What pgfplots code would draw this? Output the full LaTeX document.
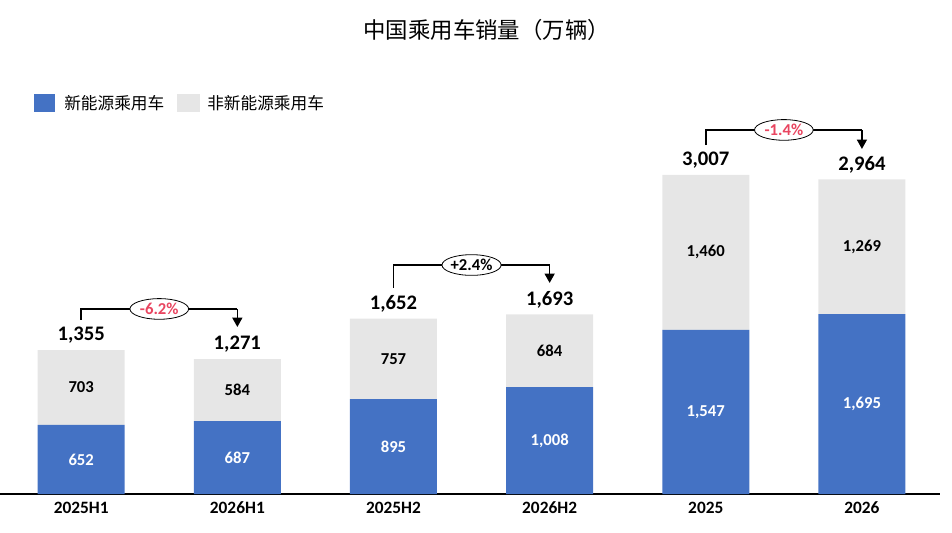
\documentclass[border=0pt]{standalone}
\usepackage{fontspec}
\setmainfont{Carlito}
\newfontfamily\cjk{Noto Sans CJK SC}
\usepackage{pgfplots}
\pgfplotsset{compat=1.18}
\usetikzlibrary{arrows.meta,shapes.geometric}
\definecolor{nev}{HTML}{4472C4}
\definecolor{ice}{HTML}{E6E6E6}
\definecolor{pctred}{HTML}{E94560}
\tikzset{
  mysegw/.style={font=\bfseries\fontsize{12.5}{14}\selectfont, inner sep=0pt, text=white},
  mysegb/.style={font=\bfseries\fontsize{12.5}{14}\selectfont, inner sep=0pt, text=black},
  mytot/.style={font=\bfseries\fontsize{15.5}{17}\selectfont, inner sep=0pt, yshift=11.25pt},
  mybrk/.style={draw=black, line width=1.1pt},
  myarr/.style={draw=black, line width=1.1pt, -{Triangle[width=7.5pt,length=7pt]}},
  mypc/.style={ellipse, draw=black, line width=0.6pt, fill=white, inner sep=0pt, minimum width=44pt, minimum height=15.5pt, font=\bfseries\fontsize{12.5}{14}\selectfont},
}
\begin{document}
\begin{tikzpicture}
\useasboundingbox (0pt,-28.5pt) rectangle (714pt,370.5pt);
\begin{axis}[
  at={(0pt,0pt)}, anchor=south west,
  scale only axis, width=705pt, height=286.5pt,
  xmin=-0.52, xmax=5.5, ymin=0, ymax=3600,
  ybar stacked, bar width=65.25pt,
  axis y line=none, axis x line*=bottom,
  x axis line style={-, black, line width=0.8pt},
  xtick={0,1,2,3,4,5},
  xticklabels={2025H1,2026H1,2025H2,2026H2,2025,2026},
  major tick length=0pt,
  xticklabel style={font=\bfseries\fontsize{13}{15}\selectfont, inner sep=0pt, anchor=center, yshift=-10.5pt},
  clip=false,
]
\addplot[fill=nev, draw=none] coordinates {(0,652) (1,687) (2,895) (3,1008) (4,1547) (5,1695)};
\addplot[fill=ice, draw=none] coordinates {(0,703) (1,584) (2,757) (3,684) (4,1460) (5,1269)};

\coordinate (w0) at (axis cs:0,326);
\coordinate (w1) at (axis cs:1,343.5);
\coordinate (w2) at (axis cs:2,447.5);
\coordinate (w3) at (axis cs:3,504);
\coordinate (w4) at (axis cs:4,773.5);
\coordinate (w5) at (axis cs:5,847.5);
\coordinate (g0) at (axis cs:0,1003.5);
\coordinate (g1) at (axis cs:1,979);
\coordinate (g2) at (axis cs:2,1273.5);
\coordinate (g3) at (axis cs:3,1350);
\coordinate (g4) at (axis cs:4,2277);
\coordinate (g5) at (axis cs:5,2329.5);
\coordinate (t0) at (axis cs:0,1355);
\coordinate (t1) at (axis cs:1,1271);
\coordinate (t2) at (axis cs:2,1652);
\coordinate (t3) at (axis cs:3,1693);
\coordinate (t4) at (axis cs:4,3007);
\coordinate (t5) at (axis cs:5,2964);
\coordinate (a0) at (axis cs:0,1640);
\coordinate (b0) at (axis cs:1,1744);
\coordinate (c0) at (axis cs:1,1574);
\coordinate (e0) at (axis cs:0.5,1744);
\coordinate (a1) at (axis cs:2,1942);
\coordinate (b1) at (axis cs:3,2158);
\coordinate (c1) at (axis cs:3,1989);
\coordinate (e1) at (axis cs:2.5,2158);
\coordinate (a2) at (axis cs:4,3289);
\coordinate (b2) at (axis cs:5,3431);
\coordinate (c2) at (axis cs:5,3252);
\coordinate (e2) at (axis cs:4.5,3431);
\end{axis}

\node[mysegw] at (w0) {652};
\node[mysegw] at (w1) {687};
\node[mysegw] at (w2) {895};
\node[mysegw] at (w3) {1,008};
\node[mysegw] at (w4) {1,547};
\node[mysegw] at (w5) {1,695};
\node[mysegb] at (g0) {703};
\node[mysegb] at (g1) {584};
\node[mysegb] at (g2) {757};
\node[mysegb] at (g3) {684};
\node[mysegb] at (g4) {1,460};
\node[mysegb] at (g5) {1,269};

\node[mytot] at (t0) {1,355};
\node[mytot] at (t1) {1,271};
\node[mytot] at (t2) {1,652};
\node[mytot] at (t3) {1,693};
\node[mytot] at (t4) {3,007};
\node[mytot] at (t5) {2,964};

\draw[mybrk] (a0) |- (b0);
\draw[myarr] (b0) -- (c0);
\node[mypc, text=pctred] at (e0) {-6.2\%};
\draw[mybrk] (a1) |- (b1);
\draw[myarr] (b1) -- (c1);
\node[mypc, text=black] at (e1) {+2.4\%};
\draw[mybrk] (a2) |- (b2);
\draw[myarr] (b2) -- (c2);
\node[mypc, text=pctred] at (e2) {-1.4\%};

\node[font=\cjk\fontsize{16.8}{18}\selectfont, inner sep=0pt] at (365pt,348pt) {中国乘用车销量（万辆）};
\fill[nev] (25.5pt,286.5pt) rectangle (41.25pt,300pt);
\node[font=\cjk\fontsize{12.5}{14}\selectfont, anchor=west, inner sep=0pt] at (48pt,293.25pt) {新能源乘用车};
\fill[ice] (132.75pt,286.5pt) rectangle (150pt,300pt);
\node[font=\cjk\fontsize{12.5}{14}\selectfont, anchor=west, inner sep=0pt] at (155.25pt,293.25pt) {非新能源乘用车};
\end{tikzpicture}
\end{document}
